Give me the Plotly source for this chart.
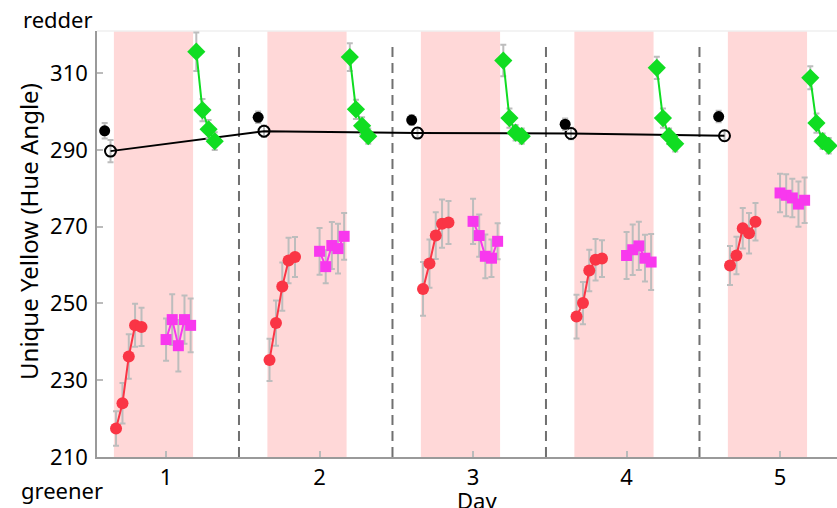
import plotly.graph_objects as go

# ---------------- data ----------------
days = [1, 2, 3, 4, 5]

red_vals = [[217.4, 224.0, 236.2, 244.3, 243.9],
            [235.3, 244.9, 254.4, 261.2, 262.1],
            [253.8, 260.4, 267.7, 270.8, 271.1],
            [246.6, 250.1, 258.6, 261.4, 261.7],
            [259.9, 262.5, 269.6, 268.3, 271.3]]
red_err = [[4.5, 5.3, 5.8, 5.6, 5.0],
           [5.5, 5.9, 6.3, 5.9, 5.2],
           [7.0, 6.3, 6.1, 6.3, 5.6],
           [5.7, 5.5, 5.4, 5.4, 4.8],
           [5.1, 4.9, 5.3, 5.3, 4.9]]

mag_vals = [[240.6, 245.8, 239.0, 245.8, 244.3],
            [263.6, 259.6, 265.1, 264.3, 267.5],
            [271.4, 267.7, 262.3, 261.8, 266.2],
            [262.5, 264.0, 265.0, 261.8, 260.8],
            [278.8, 278.2, 277.5, 275.9, 276.9]]
mag_err = [[5.5, 6.6, 6.7, 6.3, 7.0],
           [6.1, 4.3, 6.1, 6.5, 6.1],
           [5.9, 5.5, 5.7, 4.9, 4.7],
           [6.1, 6.6, 6.3, 6.1, 7.3],
           [5.0, 5.5, 5.0, 5.9, 5.9]]

green_vals = [[315.6, 300.4, 295.4, 292.3],
              [314.2, 300.6, 296.3, 293.6],
              [313.3, 298.3, 294.5, 293.6],
              [311.4, 298.3, 293.6, 291.6],
              [308.8, 297.0, 292.3, 291.1]]
green_err = [[5.0, 2.9, 2.4, 2.3],
             [3.6, 2.5, 2.2, 2.0],
             [4.1, 2.5, 2.0, 2.0],
             [2.9, 2.5, 2.0, 2.0],
             [3.0, 2.5, 2.0, 2.0]]

black_filled = [295.0, 298.5, 297.8, 296.7, 298.7]
black_filled_err = [2.0, 1.5, 1.3, 1.5, 1.5]
black_open = [289.7, 294.9, 294.4, 294.3, 293.7]
black_open_err = [2.9, 1.5, 1.3, 1.5, 1.3]

# sampling time offsets within a day (in days)
red_t = [-0.326, -0.284, -0.243, -0.202, -0.160]
mag_t = [0.0, 0.04, 0.08, 0.12, 0.16]
green_t = [0.197, 0.237, 0.277, 0.317]
black_filled_t = -0.40
black_open_t = -0.362

x_ticks = [1, 2, 3, 4, 5]
y_ticks = [210, 230, 250, 270, 290, 310]

# ---------------- styles ----------------
RED = "#FA3545"
MAG = "#F838EE"
GREEN = "#10DD22"
ERR = "#BDBDBD"
PINK = "#FFD8D8"
FONT = "Noto Sans"

fig = go.Figure()

# shaded periods and dashed day separators
for d in days:
    fig.add_shape(type="rect", xref="x", yref="paper", x0=d - 0.34, x1=d + 0.176,
                  y0=0, y1=1, fillcolor=PINK, line=dict(width=0), layer="below")
for d in days[:-1]:
    fig.add_shape(type="line", xref="x", yref="y", x0=d + 0.475, x1=d + 0.475,
                  y0=210, y1=318.2, line=dict(color="#707070", width=2, dash="10px,6px"),
                  layer="below")
# faint top border
fig.add_shape(type="line", xref="paper", yref="paper", x0=0, x1=1, y0=1, y1=1,
              line=dict(color="#EFEFEF", width=1.5), layer="below")


def errs(arr):
    return dict(type="data", array=arr, color=ERR, thickness=2, width=3, visible=True)


# black open circles with connecting line
fig.add_trace(go.Scatter(
    x=[d + black_open_t for d in days], y=black_open, mode="lines+markers",
    line=dict(color="black", width=2),
    marker=dict(symbol="circle-open", size=11, color="black", line=dict(width=2)),
    error_y=errs(black_open_err), showlegend=False))
# black filled circles
fig.add_trace(go.Scatter(
    x=[d + black_filled_t for d in days], y=black_filled, mode="markers",
    marker=dict(symbol="circle", size=11, color="black"),
    error_y=errs(black_filled_err), showlegend=False))

for i, d in enumerate(days):
    fig.add_trace(go.Scatter(
        x=[d + t for t in red_t], y=red_vals[i], mode="lines+markers",
        line=dict(color=RED, width=2),
        marker=dict(symbol="circle", size=12, color=RED, line=dict(width=0)),
        error_y=errs(red_err[i]), showlegend=False))
    fig.add_trace(go.Scatter(
        x=[d + t for t in mag_t], y=mag_vals[i], mode="lines+markers",
        line=dict(color=MAG, width=2),
        marker=dict(symbol="square", size=11, color=MAG, line=dict(width=0)),
        error_y=errs(mag_err[i]), showlegend=False))
    fig.add_trace(go.Scatter(
        x=[d + t for t in green_t], y=green_vals[i], mode="lines+markers",
        line=dict(color=GREEN, width=2),
        marker=dict(symbol="diamond", size=14, color=GREEN, line=dict(width=0)),
        error_y=errs(green_err[i]), showlegend=False))

W, H = 837, 508
L, R, T, B = 97, 0, 31, 51
pw, ph = W - L - R, H - T - B


def px_x(x):
    return (x - L) / pw


def px_y(y):
    return (H - B - y) / ph


fig.update_layout(
    width=W, height=H,
    margin=dict(l=L, r=R, t=T, b=B),
    paper_bgcolor="white", plot_bgcolor="white",
    font=dict(family=FONT, size=22, color="black"),
    xaxis=dict(range=[0.55, 5.371], tickvals=x_ticks, ticks="inside", ticklen=6,
               tickcolor="#BBBBBB", tickwidth=1.5, showline=True, linecolor="#9A9A9A",
               linewidth=1.5, showgrid=False, zeroline=False,
               tickfont=dict(family=FONT, size=22, color="black")),
    yaxis=dict(range=[210, 321], tickvals=y_ticks, ticks="inside", ticklen=6,
               tickcolor="#BBBBBB", tickwidth=1.5, showline=True, linecolor="#9A9A9A",
               linewidth=1.5, showgrid=False, zeroline=False, ticklabelstandoff=3,
               tickfont=dict(family=FONT, size=22, color="black")),
    annotations=[
        dict(text="redder", xref="paper", yref="paper", x=px_x(58), y=px_y(19),
             showarrow=False, xanchor="center", yanchor="middle",
             font=dict(family=FONT, size=22, color="black")),
        dict(text="greener", xref="paper", yref="paper", x=px_x(62), y=px_y(490),
             showarrow=False, xanchor="center", yanchor="middle",
             font=dict(family=FONT, size=22, color="black")),
        dict(text="Day", xref="paper", yref="paper", x=px_x(477), y=px_y(500),
             showarrow=False, xanchor="center", yanchor="middle",
             font=dict(family=FONT, size=22, color="black")),
        dict(text="Unique Yellow (Hue Angle)", xref="paper", yref="paper",
             x=px_x(28), y=px_y(232), textangle=-90, showarrow=False,
             xanchor="center", yanchor="middle",
             font=dict(family=FONT, size=24, color="black")),
    ],
)

fig.write_html("out.html", post_script="document.body.style.margin='0px';",
               config={"displayModeBar": False})
